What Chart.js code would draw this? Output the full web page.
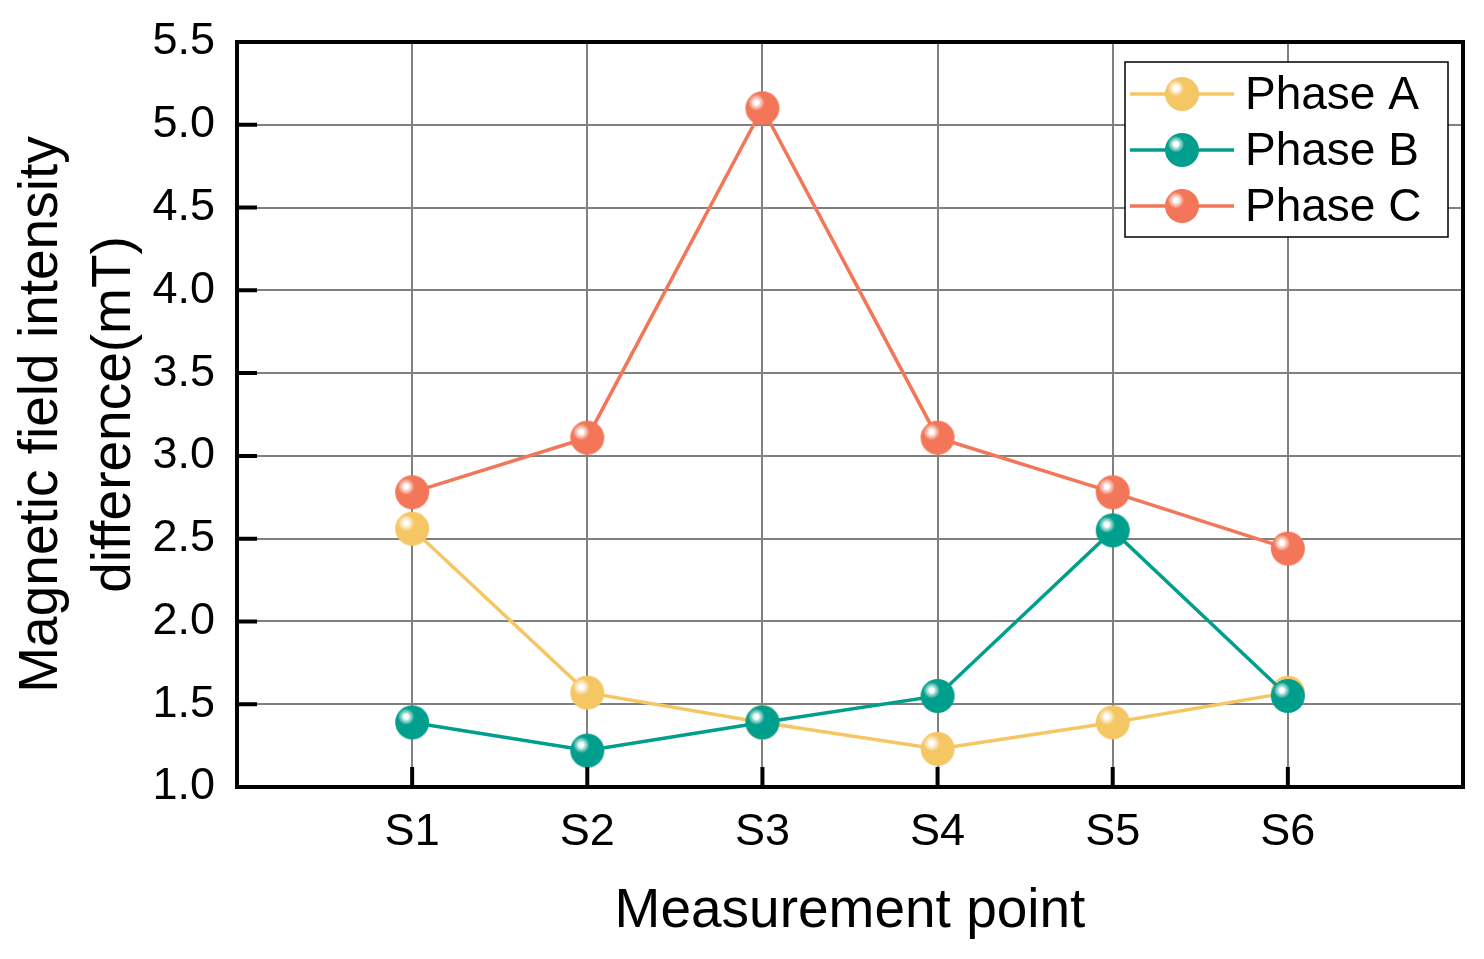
<!DOCTYPE html>
<html>
<head>
<meta charset="utf-8">
<title>Magnetic field intensity difference</title>
<script src="https://cdn.jsdelivr.net/npm/chart.js@4.4.0/dist/chart.umd.min.js"></script>
<style>
  html, body { margin: 0; padding: 0; background: #fff; }
  #wrap { width: 1484px; height: 959px; }
</style>
</head>
<body>
<div id="wrap"><canvas id="chart" width="1484" height="959"></canvas></div>
<script>
// data
const categories = ['S1', 'S2', 'S3', 'S4', 'S5', 'S6'];
const phaseA = [2.56, 1.57, 1.39, 1.23, 1.39, 1.57];
const phaseB = [1.39, 1.22, 1.39, 1.55, 2.55, 1.55];
const phaseC = [2.78, 3.11, 5.10, 3.11, 2.78, 2.44];
const seriesNames = ['Phase A', 'Phase B', 'Phase C'];
const seriesColors = ['#F5C664', '#009E8C', '#F27657'];

const FONT = "'Liberation Sans', Arial, sans-serif";

// shiny sphere marker, like the origin-style ball symbol
function sphere(color) {
  const c = document.createElement('canvas');
  c.width = 36; c.height = 36;
  const g = c.getContext('2d');
  const hx = 12, hy = 12.3;
  const grad = g.createRadialGradient(hx, hy, 0, hx, hy, 15);
  grad.addColorStop(0, '#ffffff');
  grad.addColorStop(0.16, '#ffffff');
  grad.addColorStop(0.24, 'rgba(255,255,255,0.75)');
  grad.addColorStop(0.42, 'rgba(255,255,255,0.35)');
  grad.addColorStop(0.55, 'rgba(255,255,255,0)');
  grad.addColorStop(1, 'rgba(255,255,255,0)');
  g.beginPath();
  g.arc(18, 18, 17, 0, Math.PI * 2);
  g.fillStyle = color;
  g.fill();
  g.fillStyle = grad;
  g.fill();
  return c;
}

const markers = seriesColors.map(sphere);

function toPoints(values) {
  return values.map((v, i) => ({ x: i + 1, y: v }));
}

const datasets = [phaseA, phaseB, phaseC].map((vals, i) => ({
  label: seriesNames[i],
  data: toPoints(vals),
  borderColor: seriesColors[i],
  backgroundColor: seriesColors[i],
  borderWidth: 3.5,
  showLine: true,
  tension: 0,
  pointStyle: markers[i],
  pointRadius: 17,
  pointHoverRadius: 17,
  clip: false,
  order: 3 - i
}));

// frame on top/right, inward ticks, legend box
const framePlugin = {
  id: 'frame',
  afterDraw(chart) {
    const { ctx, chartArea: a, scales } = chart;
    ctx.save();
    ctx.strokeStyle = '#000';
    ctx.lineWidth = 4;
    ctx.strokeRect(a.left, a.top, a.right - a.left, a.bottom - a.top);

    // inward ticks
    ctx.beginPath();
    scales.y.ticks.forEach(t => {
      const py = scales.y.getPixelForValue(t.value);
      ctx.moveTo(a.left, py);
      ctx.lineTo(a.left + 20, py);
    });
    scales.x.ticks.forEach(t => {
      const px = scales.x.getPixelForValue(t.value);
      ctx.moveTo(px, a.bottom);
      ctx.lineTo(px, a.bottom - 20);
    });
    ctx.stroke();

    // legend
    const lx = 1125, ly = 62, lw = 323, lh = 175;
    ctx.fillStyle = '#fff';
    ctx.fillRect(lx, ly, lw, lh);
    ctx.lineWidth = 1.5;
    ctx.strokeRect(lx, ly, lw, lh);
    ctx.font = '46px ' + FONT;
    ctx.textBaseline = 'middle';
    ctx.textAlign = 'left';
    chart.data.datasets.forEach((ds, i) => {
      const cy = 94 + i * 56;
      ctx.strokeStyle = ds.borderColor;
      ctx.lineWidth = 3.5;
      ctx.beginPath();
      ctx.moveTo(1130, cy);
      ctx.lineTo(1234, cy);
      ctx.stroke();
      ctx.drawImage(ds.pointStyle, 1182 - 18, cy - 18);
      ctx.fillStyle = '#000';
      ctx.fillText(ds.label, 1245, cy + 2);
    });
    ctx.restore();
  }
};

new Chart(document.getElementById('chart'), {
  type: 'scatter',
  data: { datasets },
  options: {
    responsive: false,
    devicePixelRatio: 1,
    animation: false,
    layout: { padding: { top: 42, right: 21, left: 0, bottom: 0 } },
    plugins: { legend: { display: false }, tooltip: { enabled: false } },
    scales: {
      x: {
        type: 'linear',
        min: 0,
        max: 7,
        afterBuildTicks(scale) {
          scale.ticks = categories.map((c, i) => ({ value: i + 1 }));
        },
        afterFit(scale) { scale.height = 172; },
        grid: { color: '#808080', lineWidth: 2, drawTicks: false },
        border: { display: true, color: '#000', width: 4 },
        ticks: {
          padding: 19,
          color: '#000',
          font: { family: FONT, size: 45 },
          callback: (v) => categories[v - 1] || ''
        },
        title: {
          display: true,
          text: 'Measurement point',
          color: '#000',
          font: { family: FONT, size: 55, lineHeight: 1.2 },
          padding: { top: 0, bottom: 14 }
        }
      },
      y: {
        min: 1.0,
        max: 5.5,
        afterFit(scale) {
          scale.width = 237;
          scale.paddingTop = 0;
          scale.paddingBottom = 0;
        },
        grid: { color: '#808080', lineWidth: 2, drawTicks: false },
        border: { display: true, color: '#000', width: 4 },
        ticks: {
          stepSize: 0.5,
          padding: 22,
          color: '#000',
          font: { family: FONT, size: 45 },
          callback: (v) => v.toFixed(1)
        },
        title: {
          display: true,
          text: ['Magnetic field intensity', 'difference(mT)'],
          color: '#000',
          font: { family: FONT, size: 55, lineHeight: 73 / 55 },
          padding: { top: 5, bottom: 0 }
        }
      }
    }
  },
  plugins: [framePlugin]
});
</script>
</body>
</html>
